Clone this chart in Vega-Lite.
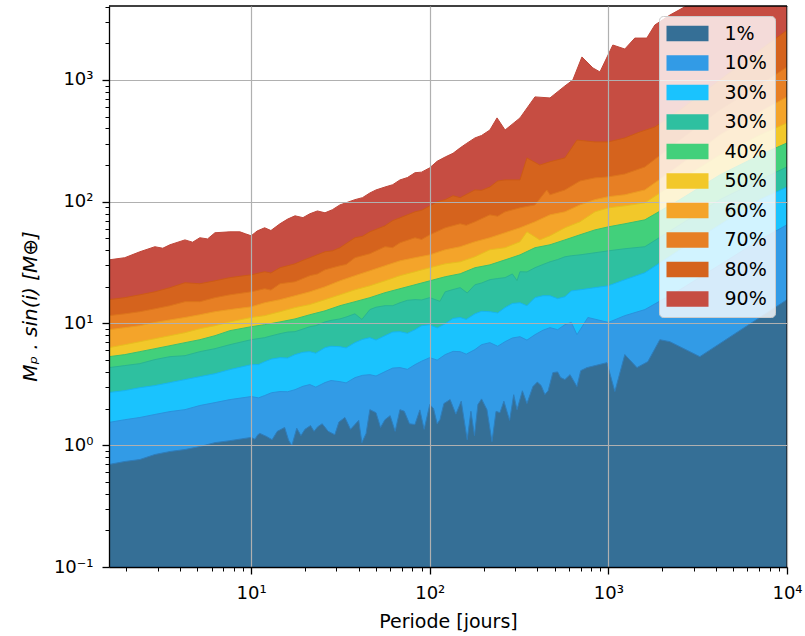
{
 "$schema": "https://vega.github.io/schema/vega-lite/v6.json",
 "width": 678, "height": 561,
 "autosize": {"type": "none"},
 "padding": {"left": 109, "top": 6, "right": 18, "bottom": 69},
 "config": {"font": "DejaVu Sans", "view": {"stroke": null}},
 "layer": [
  {
   "data": {"values": [
{"s":"90%","p":1.6,"m":33.3},{"s":"90%","p":1.96,"m":34.7},{"s":"90%","p":2.38,"m":38.8},{"s":"90%","p":2.89,"m":42.7},{"s":"90%","p":3.2,"m":41.5},{"s":"90%","p":3.51,"m":44.3},{"s":"90%","p":4.26,"m":48.6},{"s":"90%","p":4.7,"m":46.5},{"s":"90%","p":5.16,"m":50.6},{"s":"90%","p":5.7,"m":49.5},{"s":"90%","p":6.27,"m":55.6},{"s":"90%","p":7.6,"m":56.6},{"s":"90%","p":8.65,"m":56.6},{"s":"90%","p":9.3,"m":54.5},{"s":"90%","p":10,"m":52.5},{"s":"90%","p":10.8,"m":57.5},{"s":"90%","p":11.9,"m":61.1},{"s":"90%","p":12.9,"m":58},{"s":"90%","p":14.5,"m":65.9},{"s":"90%","p":16,"m":72},{"s":"90%","p":17.6,"m":76.6},{"s":"90%","p":19.5,"m":74},{"s":"90%","p":21.3,"m":79.6},{"s":"90%","p":23.5,"m":84},{"s":"90%","p":25.9,"m":81.1},{"s":"90%","p":28.5,"m":86},{"s":"90%","p":31.4,"m":94.2},{"s":"90%","p":34,"m":98},{"s":"90%","p":38.1,"m":104},{"s":"90%","p":42,"m":108},{"s":"90%","p":46.2,"m":118},{"s":"90%","p":50,"m":125},{"s":"90%","p":56.1,"m":132},{"s":"90%","p":62,"m":138},{"s":"90%","p":68.1,"m":151},{"s":"90%","p":75,"m":158},{"s":"90%","p":82.6,"m":173},{"s":"90%","p":90,"m":175},{"s":"90%","p":100,"m":190},{"s":"90%","p":110,"m":215},{"s":"90%","p":122,"m":233},{"s":"90%","p":135,"m":250},{"s":"90%","p":148,"m":277},{"s":"90%","p":160,"m":300},{"s":"90%","p":179,"m":334},{"s":"90%","p":195,"m":350},{"s":"90%","p":217,"m":388},{"s":"90%","p":238,"m":488},{"s":"90%","p":264,"m":388},{"s":"90%","p":320,"m":488},{"s":"90%","p":388,"m":726},{"s":"90%","p":471,"m":712},{"s":"90%","p":571,"m":893},{"s":"90%","p":632,"m":998},{"s":"90%","p":711,"m":1545},{"s":"90%","p":819,"m":1256},{"s":"90%","p":897,"m":1164},{"s":"90%","p":1059,"m":1936},{"s":"90%","p":1236,"m":1795},{"s":"90%","p":1406,"m":2208},{"s":"90%","p":1641,"m":2208},{"s":"90%","p":1820,"m":2826},{"s":"90%","p":2208,"m":3410},{"s":"90%","p":2786,"m":4120},{"s":"90%","p":4207,"m":6000},{"s":"90%","p":7047,"m":9000},{"s":"90%","p":10000,"m":14000},
{"s":"80%","p":1.6,"m":15.7},{"s":"80%","p":1.96,"m":16.3},{"s":"80%","p":2.38,"m":17.2},{"s":"80%","p":2.89,"m":18.2},{"s":"80%","p":3.51,"m":19.7},{"s":"80%","p":4.26,"m":21.6},{"s":"80%","p":5.16,"m":21.2},{"s":"80%","p":6.27,"m":22.4},{"s":"80%","p":7.6,"m":23.8},{"s":"80%","p":10,"m":25.1},{"s":"80%","p":11.9,"m":26.6},{"s":"80%","p":12.9,"m":26},{"s":"80%","p":14.5,"m":28.7},{"s":"80%","p":17.6,"m":30.9},{"s":"80%","p":19.5,"m":33},{"s":"80%","p":21.3,"m":34.7},{"s":"80%","p":25.9,"m":38.8},{"s":"80%","p":28.5,"m":39.5},{"s":"80%","p":31.4,"m":41.9},{"s":"80%","p":38.1,"m":50.6},{"s":"80%","p":42,"m":52},{"s":"80%","p":46.2,"m":56.6},{"s":"80%","p":56.1,"m":63.4},{"s":"80%","p":62,"m":70},{"s":"80%","p":68.1,"m":73.8},{"s":"80%","p":82.6,"m":82.6},{"s":"80%","p":90,"m":85},{"s":"80%","p":100,"m":92.5},{"s":"80%","p":110,"m":100},{"s":"80%","p":122,"m":104},{"s":"80%","p":135,"m":112},{"s":"80%","p":148,"m":108},{"s":"80%","p":179,"m":125},{"s":"80%","p":195,"m":124},{"s":"80%","p":217,"m":132},{"s":"80%","p":240,"m":148},{"s":"80%","p":264,"m":151},{"s":"80%","p":320,"m":151},{"s":"80%","p":350,"m":229},{"s":"80%","p":413,"m":200},{"s":"80%","p":471,"m":213},{"s":"80%","p":571,"m":229},{"s":"80%","p":667,"m":321},{"s":"80%","p":841,"m":310},{"s":"80%","p":1000,"m":310},{"s":"80%","p":1236,"m":334},{"s":"80%","p":1500,"m":374},{"s":"80%","p":1820,"m":411},{"s":"80%","p":2512,"m":566},{"s":"80%","p":3251,"m":753},{"s":"80%","p":4207,"m":998},{"s":"80%","p":5445,"m":1327},{"s":"80%","p":7047,"m":1758},{"s":"80%","p":10000,"m":2564},
{"s":"70%","p":1.6,"m":11.6},{"s":"70%","p":1.96,"m":12.0},{"s":"70%","p":2.38,"m":12.5},{"s":"70%","p":2.89,"m":13.2},{"s":"70%","p":3.51,"m":14.0},{"s":"70%","p":4.26,"m":15.1},{"s":"70%","p":5.16,"m":15.1},{"s":"70%","p":6.27,"m":16.3},{"s":"70%","p":7.6,"m":17.2},{"s":"70%","p":10,"m":18.2},{"s":"70%","p":11.9,"m":19.3},{"s":"70%","p":12.9,"m":18.8},{"s":"70%","p":14.5,"m":21.2},{"s":"70%","p":17.6,"m":22.0},{"s":"70%","p":21.3,"m":24.7},{"s":"70%","p":23.5,"m":25.5},{"s":"70%","p":25.9,"m":27.6},{"s":"70%","p":31.4,"m":29.8},{"s":"70%","p":34,"m":30.5},{"s":"70%","p":38.1,"m":34.7},{"s":"70%","p":46.2,"m":37.4},{"s":"70%","p":56.1,"m":42.7},{"s":"70%","p":62,"m":42},{"s":"70%","p":68.1,"m":46.0},{"s":"70%","p":82.6,"m":50.6},{"s":"70%","p":90,"m":49},{"s":"70%","p":100,"m":53.5},{"s":"70%","p":122,"m":61.1},{"s":"70%","p":148,"m":65.9},{"s":"70%","p":160,"m":64},{"s":"70%","p":179,"m":68.4},{"s":"70%","p":217,"m":78.0},{"s":"70%","p":240,"m":76},{"s":"70%","p":264,"m":82.6},{"s":"70%","p":320,"m":89.1},{"s":"70%","p":388,"m":94.2},{"s":"70%","p":452,"m":125},{"s":"70%","p":471,"m":114},{"s":"70%","p":571,"m":125},{"s":"70%","p":693,"m":148},{"s":"70%","p":841,"m":157},{"s":"70%","p":1000,"m":160},{"s":"70%","p":1236,"m":169},{"s":"70%","p":1600,"m":193},{"s":"70%","p":2512,"m":321},{"s":"70%","p":4207,"m":566},{"s":"70%","p":7047,"m":910},{"s":"70%","p":10000,"m":1279},
{"s":"60%","p":1.6,"m":8.89},{"s":"60%","p":1.96,"m":9.24},{"s":"60%","p":2.38,"m":9.59},{"s":"60%","p":2.89,"m":10.2},{"s":"60%","p":3.51,"m":10.7},{"s":"60%","p":4.26,"m":11.2},{"s":"60%","p":5.16,"m":11.8},{"s":"60%","p":6.27,"m":12.5},{"s":"60%","p":7.6,"m":13.0},{"s":"60%","p":10,"m":13.7},{"s":"60%","p":11.9,"m":14.8},{"s":"60%","p":14.5,"m":15.7},{"s":"60%","p":17.6,"m":16.9},{"s":"60%","p":21.3,"m":18.2},{"s":"60%","p":25.9,"m":20.0},{"s":"60%","p":31.4,"m":22.4},{"s":"60%","p":38.1,"m":24.7},{"s":"60%","p":46.2,"m":27.1},{"s":"60%","p":56.1,"m":29.8},{"s":"60%","p":68.1,"m":32.7},{"s":"60%","p":82.6,"m":34.7},{"s":"60%","p":100,"m":36.6},{"s":"60%","p":122,"m":40.3},{"s":"60%","p":148,"m":42.7},{"s":"60%","p":179,"m":46.9},{"s":"60%","p":217,"m":50.6},{"s":"60%","p":264,"m":55.6},{"s":"60%","p":320,"m":61.1},{"s":"60%","p":388,"m":68.4},{"s":"60%","p":471,"m":78.0},{"s":"60%","p":571,"m":82.6},{"s":"60%","p":693,"m":94.2},{"s":"60%","p":841,"m":104},{"s":"60%","p":1000,"m":110},{"s":"60%","p":1236,"m":114},{"s":"60%","p":1600,"m":125},{"s":"60%","p":2512,"m":200},{"s":"60%","p":4207,"m":353},{"s":"60%","p":7047,"m":546},{"s":"60%","p":10000,"m":726},
{"s":"50%","p":1.6,"m":6.33},{"s":"50%","p":1.96,"m":6.70},{"s":"50%","p":2.38,"m":7.09},{"s":"50%","p":2.89,"m":7.50},{"s":"50%","p":3.51,"m":7.94},{"s":"50%","p":4.26,"m":8.41},{"s":"50%","p":5.16,"m":9.06},{"s":"50%","p":6.27,"m":9.59},{"s":"50%","p":7.6,"m":10.3},{"s":"50%","p":10,"m":11.2},{"s":"50%","p":11.9,"m":11.6},{"s":"50%","p":14.5,"m":12.5},{"s":"50%","p":17.6,"m":13.5},{"s":"50%","p":21.3,"m":14.3},{"s":"50%","p":25.9,"m":15.7},{"s":"50%","p":31.4,"m":17.2},{"s":"50%","p":38.1,"m":18.9},{"s":"50%","p":46.2,"m":20.4},{"s":"50%","p":56.1,"m":22.4},{"s":"50%","p":68.1,"m":24.7},{"s":"50%","p":82.6,"m":26.6},{"s":"50%","p":100,"m":28.7},{"s":"50%","p":122,"m":30.9},{"s":"50%","p":148,"m":32.1},{"s":"50%","p":179,"m":35.3},{"s":"50%","p":217,"m":40.3},{"s":"50%","p":264,"m":41.9},{"s":"50%","p":320,"m":46.9},{"s":"50%","p":350,"m":56.6},{"s":"50%","p":413,"m":48.6},{"s":"50%","p":471,"m":52.5},{"s":"50%","p":571,"m":61.1},{"s":"50%","p":693,"m":68.4},{"s":"50%","p":841,"m":82.6},{"s":"50%","p":1000,"m":89.1},{"s":"50%","p":1236,"m":92.5},{"s":"50%","p":1600,"m":97.9},{"s":"50%","p":2512,"m":151},{"s":"50%","p":4207,"m":242},{"s":"50%","p":7047,"m":353},{"s":"50%","p":10000,"m":444},
{"s":"40%","p":1.6,"m":5.34},{"s":"40%","p":1.96,"m":5.55},{"s":"40%","p":2.38,"m":5.87},{"s":"40%","p":2.89,"m":6.21},{"s":"40%","p":3.51,"m":6.57},{"s":"40%","p":4.26,"m":6.96},{"s":"40%","p":5.16,"m":7.36},{"s":"40%","p":6.27,"m":7.94},{"s":"40%","p":7.6,"m":8.73},{"s":"40%","p":10,"m":9.41},{"s":"40%","p":11.9,"m":9.78},{"s":"40%","p":14.5,"m":10.3},{"s":"40%","p":17.6,"m":10.9},{"s":"40%","p":21.3,"m":11.8},{"s":"40%","p":25.9,"m":12.7},{"s":"40%","p":31.4,"m":14.0},{"s":"40%","p":38.1,"m":15.1},{"s":"40%","p":46.2,"m":16.3},{"s":"40%","p":56.1,"m":17.9},{"s":"40%","p":68.1,"m":19.3},{"s":"40%","p":82.6,"m":20.8},{"s":"40%","p":100,"m":22.4},{"s":"40%","p":122,"m":24.2},{"s":"40%","p":148,"m":25.6},{"s":"40%","p":179,"m":28.7},{"s":"40%","p":217,"m":30.3},{"s":"40%","p":264,"m":33.3},{"s":"40%","p":320,"m":36.6},{"s":"40%","p":388,"m":41.9},{"s":"40%","p":471,"m":44.3},{"s":"40%","p":571,"m":48.6},{"s":"40%","p":693,"m":53.5},{"s":"40%","p":841,"m":58.7},{"s":"40%","p":1000,"m":62.2},{"s":"40%","p":1236,"m":65.9},{"s":"40%","p":1600,"m":71.0},{"s":"40%","p":2512,"m":104},{"s":"40%","p":4207,"m":166},{"s":"40%","p":7047,"m":242},{"s":"40%","p":10000,"m":304},
{"s":"30% ","p":1.6,"m":4.34},{"s":"30% ","p":1.96,"m":4.51},{"s":"30% ","p":2.38,"m":4.68},{"s":"30% ","p":2.89,"m":5.05},{"s":"30% ","p":3.51,"m":5.34},{"s":"30% ","p":4.26,"m":5.44},{"s":"30% ","p":5.16,"m":5.87},{"s":"30% ","p":6.27,"m":6.21},{"s":"30% ","p":7.6,"m":6.70},{"s":"30% ","p":10,"m":7.36},{"s":"30% ","p":11.9,"m":7.65},{"s":"30% ","p":12.9,"m":7.9},{"s":"30% ","p":14.5,"m":8.25},{"s":"30% ","p":16,"m":8.5},{"s":"30% ","p":17.6,"m":8.57},{"s":"30% ","p":19.5,"m":9.0},{"s":"30% ","p":21.3,"m":9.41},{"s":"30% ","p":23,"m":9.6},{"s":"30% ","p":25.9,"m":10.3},{"s":"30% ","p":28,"m":10.6},{"s":"30% ","p":31.4,"m":10.9},{"s":"30% ","p":34,"m":11.3},{"s":"30% ","p":38.1,"m":12.0},{"s":"30% ","p":41.7,"m":10.8},{"s":"30% ","p":46.2,"m":13.0},{"s":"30% ","p":50,"m":13.6},{"s":"30% ","p":56.1,"m":14.0},{"s":"30% ","p":62,"m":14.0},{"s":"30% ","p":68.1,"m":14.8},{"s":"30% ","p":75,"m":15.5},{"s":"30% ","p":82.6,"m":15.7},{"s":"30% ","p":90,"m":15.6},{"s":"30% ","p":100,"m":16.3},{"s":"30% ","p":114,"m":15.2},{"s":"30% ","p":122,"m":18.2},{"s":"30% ","p":135,"m":19.0},{"s":"30% ","p":148,"m":19.7},{"s":"30% ","p":162,"m":17.8},{"s":"30% ","p":179,"m":20.8},{"s":"30% ","p":195,"m":21.5},{"s":"30% ","p":217,"m":22.9},{"s":"30% ","p":240,"m":23.4},{"s":"30% ","p":264,"m":23.8},{"s":"30% ","p":290,"m":25.5},{"s":"30% ","p":308,"m":22.5},{"s":"30% ","p":320,"m":26.6},{"s":"30% ","p":350,"m":26.5},{"s":"30% ","p":388,"m":28.7},{"s":"30% ","p":430,"m":30.5},{"s":"30% ","p":471,"m":32.1},{"s":"30% ","p":520,"m":33.5},{"s":"30% ","p":571,"m":35.3},{"s":"30% ","p":620,"m":36.0},{"s":"30% ","p":693,"m":36.6},{"s":"30% ","p":841,"m":38.1},{"s":"30% ","p":1000,"m":39.5},{"s":"30% ","p":1236,"m":41.1},{"s":"30% ","p":1600,"m":42.7},{"s":"30% ","p":2512,"m":64.6},{"s":"30% ","p":4207,"m":104},{"s":"30% ","p":7047,"m":151},{"s":"30% ","p":10000,"m":193},
{"s":"30%","p":1.6,"m":2.71},{"s":"30%","p":1.96,"m":2.81},{"s":"30%","p":2.38,"m":2.97},{"s":"30%","p":2.89,"m":3.09},{"s":"30%","p":3.51,"m":3.27},{"s":"30%","p":4.26,"m":3.46},{"s":"30%","p":5.16,"m":3.66},{"s":"30%","p":6.27,"m":3.87},{"s":"30%","p":7.6,"m":4.18},{"s":"30%","p":10,"m":4.59},{"s":"30%","p":11,"m":4.6},{"s":"30%","p":11.9,"m":4.86},{"s":"30%","p":13,"m":5.1},{"s":"30%","p":14.5,"m":5.24},{"s":"30%","p":16,"m":5.2},{"s":"30%","p":17.6,"m":5.55},{"s":"30%","p":19.5,"m":5.8},{"s":"30%","p":21.3,"m":5.87},{"s":"30%","p":23,"m":5.7},{"s":"30%","p":25.9,"m":6.33},{"s":"30%","p":28,"m":6.5},{"s":"30%","p":31.4,"m":6.45},{"s":"30%","p":34,"m":6.3},{"s":"30%","p":38.1,"m":6.96},{"s":"30%","p":42,"m":7.4},{"s":"30%","p":46.2,"m":7.65},{"s":"30%","p":50,"m":7.3},{"s":"30%","p":56.1,"m":7.94},{"s":"30%","p":62,"m":8.5},{"s":"30%","p":68.1,"m":8.57},{"s":"30%","p":75,"m":8.3},{"s":"30%","p":82.6,"m":8.89},{"s":"30%","p":90,"m":9.6},{"s":"30%","p":100,"m":9.78},{"s":"30%","p":110,"m":9.2},{"s":"30%","p":122,"m":9.96},{"s":"30%","p":135,"m":11.0},{"s":"30%","p":148,"m":11.2},{"s":"30%","p":160,"m":10.8},{"s":"30%","p":179,"m":12.0},{"s":"30%","p":195,"m":12.6},{"s":"30%","p":217,"m":12.5},{"s":"30%","p":240,"m":12.2},{"s":"30%","p":264,"m":13.5},{"s":"30%","p":290,"m":14.6},{"s":"30%","p":320,"m":14.8},{"s":"30%","p":350,"m":14.0},{"s":"30%","p":388,"m":16.3},{"s":"30%","p":430,"m":16.9},{"s":"30%","p":471,"m":16.9},{"s":"30%","p":520,"m":16.0},{"s":"30%","p":571,"m":16.6},{"s":"30%","p":620,"m":18.5},{"s":"30%","p":693,"m":18.9},{"s":"30%","p":841,"m":19.7},{"s":"30%","p":1000,"m":20.4},{"s":"30%","p":1236,"m":22.9},{"s":"30%","p":1600,"m":26.1},{"s":"30%","p":2512,"m":40.3},{"s":"30%","p":4207,"m":64.6},{"s":"30%","p":7047,"m":104},{"s":"30%","p":10000,"m":132},
{"s":"10%","p":1.6,"m":1.54},{"s":"10%","p":1.96,"m":1.62},{"s":"10%","p":2.38,"m":1.69},{"s":"10%","p":2.89,"m":1.79},{"s":"10%","p":3.51,"m":1.89},{"s":"10%","p":4.26,"m":1.96},{"s":"10%","p":5.16,"m":2.12},{"s":"10%","p":6.27,"m":2.24},{"s":"10%","p":7.6,"m":2.37},{"s":"10%","p":10,"m":2.51},{"s":"10%","p":11,"m":2.45},{"s":"10%","p":11.9,"m":2.56},{"s":"10%","p":13,"m":2.7},{"s":"10%","p":14.5,"m":2.76},{"s":"10%","p":16,"m":2.75},{"s":"10%","p":17.6,"m":2.86},{"s":"10%","p":19.5,"m":3.05},{"s":"10%","p":21.3,"m":3.15},{"s":"10%","p":23,"m":3.0},{"s":"10%","p":25.9,"m":3.27},{"s":"10%","p":28,"m":3.4},{"s":"10%","p":31.4,"m":3.33},{"s":"10%","p":34,"m":3.25},{"s":"10%","p":38.1,"m":3.59},{"s":"10%","p":42,"m":3.75},{"s":"10%","p":46.2,"m":3.80},{"s":"10%","p":50,"m":3.7},{"s":"10%","p":56.1,"m":4.02},{"s":"10%","p":62,"m":4.3},{"s":"10%","p":68.1,"m":4.34},{"s":"10%","p":75,"m":4.2},{"s":"10%","p":82.6,"m":4.59},{"s":"10%","p":90,"m":4.9},{"s":"10%","p":100,"m":5.24},{"s":"10%","p":110,"m":5.0},{"s":"10%","p":122,"m":5.55},{"s":"10%","p":135,"m":5.9},{"s":"10%","p":148,"m":5.87},{"s":"10%","p":160,"m":5.6},{"s":"10%","p":179,"m":6.10},{"s":"10%","p":195,"m":6.7},{"s":"10%","p":217,"m":6.96},{"s":"10%","p":240,"m":6.5},{"s":"10%","p":264,"m":7.09},{"s":"10%","p":290,"m":7.6},{"s":"10%","p":320,"m":7.79},{"s":"10%","p":350,"m":7.3},{"s":"10%","p":388,"m":8.09},{"s":"10%","p":430,"m":8.8},{"s":"10%","p":471,"m":9.24},{"s":"10%","p":520,"m":8.9},{"s":"10%","p":571,"m":9.78},{"s":"10%","p":620,"m":10.2},{"s":"10%","p":667,"m":8.09},{"s":"10%","p":768,"m":11.2},{"s":"10%","p":1000,"m":10.2},{"s":"10%","p":1236,"m":11.6},{"s":"10%","p":1600,"m":13.0},{"s":"10%","p":2512,"m":18.9},{"s":"10%","p":4207,"m":30.3},{"s":"10%","p":7047,"m":48.6},{"s":"10%","p":10000,"m":64.6},
{"s":"1%","p":1.6,"m":0.695},{"s":"1%","p":1.96,"m":0.735},{"s":"1%","p":2.38,"m":0.763},{"s":"1%","p":2.89,"m":0.839},{"s":"1%","p":3.51,"m":0.888},{"s":"1%","p":4.26,"m":0.922},{"s":"1%","p":5.16,"m":0.976},{"s":"1%","p":6.27,"m":1.05},{"s":"1%","p":7.6,"m":1.09},{"s":"1%","p":10,"m":1.16},{"s":"1%","p":10.5,"m":1.12},{"s":"1%","p":10.9,"m":1.22},{"s":"1%","p":11.2,"m":1.25},{"s":"1%","p":12.2,"m":1.18},{"s":"1%","p":13.1,"m":1.11},{"s":"1%","p":14,"m":1.3},{"s":"1%","p":15.4,"m":1.40},{"s":"1%","p":16.2,"m":1.1},{"s":"1%","p":16.9,"m":0.994},{"s":"1%","p":18,"m":1.38},{"s":"1%","p":19,"m":1.2},{"s":"1%","p":20.0,"m":1.35},{"s":"1%","p":21.5,"m":1.45},{"s":"1%","p":22.5,"m":1.3},{"s":"1%","p":23.6,"m":1.42},{"s":"1%","p":25,"m":1.5},{"s":"1%","p":27,"m":1.3},{"s":"1%","p":29.4,"m":1.22},{"s":"1%","p":31,"m":1.55},{"s":"1%","p":33.5,"m":1.69},{"s":"1%","p":36,"m":1.35},{"s":"1%","p":38.1,"m":1.48},{"s":"1%","p":40,"m":1.6},{"s":"1%","p":41.7,"m":1.05},{"s":"1%","p":44,"m":1.25},{"s":"1%","p":46.2,"m":1.96},{"s":"1%","p":50,"m":1.85},{"s":"1%","p":53,"m":1.4},{"s":"1%","p":56.1,"m":1.62},{"s":"1%","p":60,"m":1.75},{"s":"1%","p":64,"m":1.3},{"s":"1%","p":68.1,"m":1.96},{"s":"1%","p":72,"m":1.9},{"s":"1%","p":77,"m":1.5},{"s":"1%","p":82.6,"m":1.48},{"s":"1%","p":88,"m":1.95},{"s":"1%","p":93,"m":1.35},{"s":"1%","p":100,"m":2.16},{"s":"1%","p":105,"m":2.0},{"s":"1%","p":110,"m":1.5},{"s":"1%","p":114,"m":1.62},{"s":"1%","p":120,"m":2.2},{"s":"1%","p":130,"m":2.37},{"s":"1%","p":140,"m":1.8},{"s":"1%","p":150,"m":2.3},{"s":"1%","p":162,"m":1.11},{"s":"1%","p":170,"m":1.9},{"s":"1%","p":178,"m":1.2},{"s":"1%","p":186,"m":2.16},{"s":"1%","p":195,"m":2.4},{"s":"1%","p":209,"m":1.96},{"s":"1%","p":223,"m":1.07},{"s":"1%","p":235,"m":1.9},{"s":"1%","p":247,"m":1.85},{"s":"1%","p":260,"m":2.3},{"s":"1%","p":280,"m":1.6},{"s":"1%","p":295,"m":2.6},{"s":"1%","p":308,"m":1.96},{"s":"1%","p":330,"m":2.8},{"s":"1%","p":350,"m":2.2},{"s":"1%","p":378,"m":3.03},{"s":"1%","p":400,"m":3.3},{"s":"1%","p":420,"m":3.1},{"s":"1%","p":441,"m":2.61},{"s":"1%","p":460,"m":2.8},{"s":"1%","p":489,"m":3.95},{"s":"1%","p":520,"m":4.0},{"s":"1%","p":540,"m":3.6},{"s":"1%","p":571,"m":3.46},{"s":"1%","p":610,"m":3.8},{"s":"1%","p":667,"m":3.03},{"s":"1%","p":700,"m":4.1},{"s":"1%","p":759,"m":4.34},{"s":"1%","p":982,"m":4.77},{"s":"1%","p":1087,"m":2.76},{"s":"1%","p":1236,"m":5.55},{"s":"1%","p":1445,"m":4.34},{"s":"1%","p":1663,"m":4.86},{"s":"1%","p":1941,"m":7.36},{"s":"1%","p":2208,"m":7.09},{"s":"1%","p":3251,"m":5.34},{"s":"1%","p":10000,"m":15.7}
   ]},
   "mark": {"type": "area", "clip": true, "strokeWidth": 1, "fillOpacity": 1},
   "encoding": {
    "x": {"field": "p", "type": "quantitative",
     "scale": {"type": "log", "domain": [1.6, 10000], "nice": false},
     "axis": {
      "values": [2,3,4,5,6,7,8,9,10,20,30,40,50,60,70,80,90,100,200,300,400,500,600,700,800,900,1000,2000,3000,4000,5000,6000,7000,8000,9000,10000],
      "labelExpr": "abs(log(datum.value)/LN10 - round(log(datum.value)/LN10)) < 0.001 ? '10' + ['⁻¹','⁰','¹','²','³','⁴'][round(log(datum.value)/LN10)+1] : ''",
      "title": "Periode [jours]",
      "grid": true, "gridColor": "#b0b0b0", "gridWidth": 1.2,
      "gridOpacity": {"condition": {"test": "abs(log(datum.value)/LN10 - round(log(datum.value)/LN10)) < 0.001", "value": 1}, "value": 0},
      "tickSize": {"condition": {"test": "abs(log(datum.value)/LN10 - round(log(datum.value)/LN10)) < 0.001", "value": 7}, "value": 4},
      "tickWidth": {"condition": {"test": "abs(log(datum.value)/LN10 - round(log(datum.value)/LN10)) < 0.001", "value": 1.3}, "value": 1},
      "tickColor": "black", "domainColor": "black", "domainWidth": 1.3,
      "labelFontSize": 18, "labelColor": "black", "labelPadding": 10, "labelOverlap": false, "labelFlush": false,
      "titleFontSize": 19, "titleFontWeight": "normal", "titleColor": "black", "titlePadding": 10,
      "zindex": 1
     }},
    "y": {"field": "m", "type": "quantitative", "stack": null,
     "scale": {"type": "log", "domain": [0.1, 4050], "nice": false},
     "axis": {
      "values": [0.1,0.2,0.3,0.4,0.5,0.6,0.7,0.8,0.9,1,2,3,4,5,6,7,8,9,10,20,30,40,50,60,70,80,90,100,200,300,400,500,600,700,800,900,1000,2000,3000,4000],
      "labelExpr": "abs(log(datum.value)/LN10 - round(log(datum.value)/LN10)) < 0.001 ? '10' + ['⁻¹','⁰','¹','²','³','⁴'][round(log(datum.value)/LN10)+1] : ''",
      "title": "Mₚ .  sin(i)  [M⊕]", "titleFontStyle": "italic", "titleY": 300,
      "grid": true, "gridColor": "#b0b0b0", "gridWidth": 1.2,
      "gridOpacity": {"condition": {"test": "abs(log(datum.value)/LN10 - round(log(datum.value)/LN10)) < 0.001", "value": 1}, "value": 0},
      "tickSize": {"condition": {"test": "abs(log(datum.value)/LN10 - round(log(datum.value)/LN10)) < 0.001", "value": 7}, "value": 4},
      "tickWidth": {"condition": {"test": "abs(log(datum.value)/LN10 - round(log(datum.value)/LN10)) < 0.001", "value": 1.3}, "value": 1},
      "tickColor": "black", "domainColor": "black", "domainWidth": 1.3,
      "labelFontSize": 18, "labelColor": "black", "labelPadding": 9, "labelOverlap": false, "labelFlush": false,
      "titleFontSize": 20, "titleFontWeight": "normal", "titleColor": "black", "titlePadding": 13,
      "zindex": 1
     }},
    "y2": {"datum": 0.1},
    "color": {"field": "s", "type": "nominal",
     "scale": {"domain": ["1%","10%","30%","30% ","40%","50%","60%","70%","80%","90%"],
               "range": ["#356f96","#329be6","#1ac3fe","#2ec0a0","#42d07b","#f2c82a","#f4a42a","#e77f24","#d5631d","#c64d42"]},
     "legend": {"orient": "none", "legendX": 550, "legendY": 10, "title": null,
       "symbolType": "M-2.1,-0.78H2.1V0.78H-2.1Z", "symbolSize": 400, "symbolOffset": 11,
       "symbolStrokeWidth": 0, "symbolOpacity": 1,
       "labelOffset": 27, "labelFontSize": 19, "labelColor": "black",
       "rowPadding": 9.5, "padding": 7.5,
       "fillColor": "rgba(255,255,255,0.8)", "strokeColor": "#cccccc", "cornerRadius": 4,
       "zindex": 2}},
    "stroke": {"field": "s", "type": "nominal",
     "scale": {"domain": ["1%","10%","30%","30% ","40%","50%","60%","70%","80%","90%"],
               "range": ["#2f7dbb","#2a92dc","#17b5ee","#29b493","#3bc06f","#e8bd1f","#eb9a22","#dc741c","#cd5a16","#be4639"]},
     "legend": null}
   }
  },
  {"data": {"values": [{}]}, "mark": {"type": "rule", "color": "black", "strokeWidth": 1.3}, "encoding": {"y": {"datum": 4050}}},
  {"data": {"values": [{}]}, "mark": {"type": "rule", "color": "black", "strokeWidth": 1.3}, "encoding": {"x": {"datum": 10000}}}
 ]
}
